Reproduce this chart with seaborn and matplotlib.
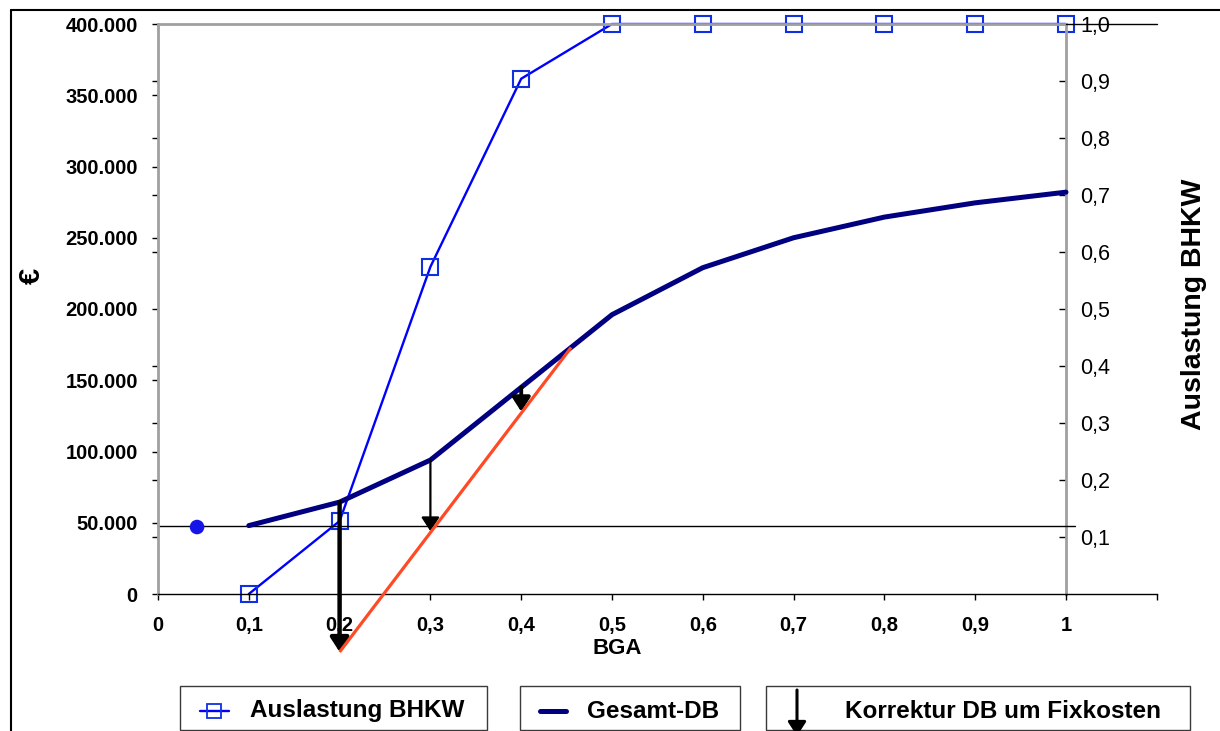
import matplotlib
matplotlib.use("Agg")
import matplotlib.pyplot as plt
from matplotlib.patches import Rectangle, FancyArrowPatch
from matplotlib.lines import Line2D
import seaborn as sns

# --- Daten -----------------------------------------------------------------
bga = [0.1, 0.2, 0.3, 0.4, 0.5, 0.6, 0.7, 0.8, 0.9, 1.0]
gesamt_db = [48000, 64500, 94000, 145000, 196000, 229000, 250000, 264500, 274500, 282000]
auslastung_bhkw = [0.0, 0.128, 0.574, 0.904, 1.0, 1.0, 1.0, 1.0, 1.0, 1.0]

fixkosten = 48000
einzelpunkt_x = [0.043]
einzelpunkt_y = [47000]

# DB nach Abzug der Fixkosten (Gerade) und Korrekturpfeile
db_korr_x = [0.2, 0.455]
db_korr_y = [-40700, 173000]
pfeil_x = [0.2, 0.3, 0.4]
pfeil_ziel = [-40700, 44000, 128000]

x_ticks = [0, 0.1, 0.2, 0.3, 0.4, 0.5, 0.6, 0.7, 0.8, 0.9, 1.0, 1.1]
x_labels = ["0", "0,1", "0,2", "0,3", "0,4", "0,5", "0,6", "0,7", "0,8", "0,9", "1", ""]
y_ticks = [0, 50000, 100000, 150000, 200000, 250000, 300000, 350000, 400000]
y_labels = ["0", "50.000", "100.000", "150.000", "200.000", "250.000",
            "300.000", "350.000", "400.000"]
y2_ticks = [0.1, 0.2, 0.3, 0.4, 0.5, 0.6, 0.7, 0.8, 0.9, 1.0]
y2_labels = ["0,1", "0,2", "0,3", "0,4", "0,5", "0,6", "0,7", "0,8", "0,9", "1,0"]

# --- Stil ------------------------------------------------------------------
sns.set_style("white")
plt.rcParams["font.family"] = ["Liberation Sans", "DejaVu Sans"]
plt.rcParams.update({"text.color": "black", "axes.labelcolor": "black",
                     "xtick.color": "black", "ytick.color": "black"})

W, H = 1220, 731
fig = plt.figure(figsize=(W / 100, H / 100), dpi=100)
fig.patch.set_facecolor("white")

BLUE = "#0000ff"
NAVY = "#000080"
RED = "#ff4a26"
GRAY = "#a0a0a0"

ax = fig.add_axes([158 / W, (H - 594) / H, (1156.8 - 158) / W, 570 / H])
ax2 = ax.twinx()

# Auslastung BHKW auf der Sekundärachse
sns.lineplot(x=bga, y=auslastung_bhkw, ax=ax2, color=BLUE, lw=1.7,
             marker="s", markersize=11, markerfacecolor="none",
             markeredgecolor="#1030e0", markeredgewidth=1.5, clip_on=False)

ax.set_zorder(ax2.get_zorder() + 1)
ax.patch.set_visible(False)

# Fixkostenlinie
ax.plot([0, 1.01], [fixkosten, fixkosten], color="black", lw=1.0, zorder=1,
        clip_on=False)

# Gesamt-DB
sns.lineplot(x=bga, y=gesamt_db, ax=ax, color=NAVY, lw=3.6, zorder=3,
             solid_capstyle="round")

# Einzelpunkt
sns.scatterplot(x=einzelpunkt_x, y=einzelpunkt_y, ax=ax, color="#1515e8",
                s=110, edgecolor="none", zorder=4)

# Korrekturpfeile
db_lookup = dict(zip(bga, gesamt_db))
pfeil_lw = [3.2, 1.6, 2.8]
for x, ziel, lw in zip(pfeil_x, pfeil_ziel, pfeil_lw):
    arr = FancyArrowPatch((x, db_lookup[x]), (x, ziel),
                          arrowstyle="-|>,head_length=0.85,head_width=0.55",
                          mutation_scale=10, lw=lw, color="black",
                          shrinkA=0, shrinkB=0, zorder=5, clip_on=False,
                          transform=ax.transData)
    ax.add_patch(arr)

# korrigierter DB
ax.plot(db_korr_x, db_korr_y, color=RED, lw=2.3, zorder=6, clip_on=False,
        solid_capstyle="butt")

# --- Achsen ----------------------------------------------------------------
ax.set_xlim(0, 1.1)
ax.set_ylim(0, 400000)
ax2.set_ylim(0, 1.0)

for s in ["top", "right"]:
    ax.spines[s].set_visible(False)
ax.spines["left"].set_color(GRAY)
ax.spines["left"].set_linewidth(2.0)
ax.spines["bottom"].set_color("black")
ax.spines["bottom"].set_linewidth(1.0)

for s in ["top", "left", "bottom"]:
    ax2.spines[s].set_visible(False)
ax2.spines["right"].set_position(("data", 1.0))
ax2.spines["right"].set_color(GRAY)
ax2.spines["right"].set_linewidth(2.0)

# oberer Rahmen
ax.plot([0, 1.0], [400000, 400000], color=GRAY, lw=2.0, zorder=0.5, clip_on=False)
ax.plot([1.0, 1.1], [400000, 400000], color="black", lw=1.0, zorder=0.5, clip_on=False)

ax.set_xticks(x_ticks)
ax.set_xticklabels(x_labels, fontsize=14.5, fontweight="bold")
ax.set_yticks(y_ticks)
ax.set_yticklabels(y_labels, fontsize=14.5, fontweight="bold")
ax.set_yticks([t * 400000 for t in y2_ticks[:-1]], minor=True)
ax.tick_params(axis="x", direction="out", length=4.5, width=1, color="black",
               pad=11, bottom=True)
ax.tick_params(axis="y", which="both", direction="out", length=4.5, width=1,
               color="black", pad=10, left=True)

ax2.set_yticks(y2_ticks)
ax2.set_yticklabels(y2_labels, fontsize=15.5)
ax2.tick_params(axis="y", direction="in", length=5, width=1, color="black",
                pad=10, right=True)

ax.set_xlabel("BGA", fontsize=16, fontweight="bold")
ax.xaxis.set_label_coords((617 - 158) / 998.8, (594 - 638) / 570)
ax.set_ylabel("€", fontsize=21, fontweight="bold")
ax.yaxis.set_label_coords((46 - 158) / 998.8, (594 - 276) / 570)
ax2.set_ylabel("Auslastung BHKW", fontsize=20.5, fontweight="bold")
ax2.yaxis.set_label_coords((1181 - 158) / 998.8, (594 - 304) / 570)

# --- Legende ---------------------------------------------------------------
def px(x, y):
    return x / W, 1 - y / H

def box(x0, x1, y0=686, y1=730):
    fx, fy = px(x0, y1)
    fig.add_artist(Rectangle((fx, fy), (x1 - x0) / W, (y1 - y0) / H,
                             transform=fig.transFigure, fill=False,
                             edgecolor="#3a3a3a", lw=1.0))

ly = 711
box(180, 487)
fig.add_artist(Line2D([px(200, 0)[0], px(229, 0)[0]], [px(0, ly)[1]] * 2,
                      transform=fig.transFigure, color=BLUE, lw=1.7))
fig.add_artist(Line2D([px(214, 0)[0]], [px(0, ly)[1]], transform=fig.transFigure,
                      marker="s", markersize=10, markerfacecolor="none",
                      markeredgecolor="#1030e0", markeredgewidth=1.3, lw=0))
fig.text(*px(250, ly), "Auslastung BHKW", fontsize=17.5, fontweight="bold",
         ha="left", va="center")

box(520, 740)
fig.add_artist(Line2D([px(540, 0)[0], px(566, 0)[0]], [px(0, ly)[1]] * 2,
                      transform=fig.transFigure, color=NAVY, lw=3.6,
                      solid_capstyle="round"))
fig.text(*px(587, ly), "Gesamt-DB", fontsize=17.5, fontweight="bold",
         ha="left", va="center")

box(766, 1190)
fig.add_artist(FancyArrowPatch(px(797, 690), px(797, 736),
                               arrowstyle="-|>,head_length=0.85,head_width=0.55",
                               mutation_scale=10, lw=2.2, color="black",
                               shrinkA=0, shrinkB=0, transform=fig.transFigure))
fig.text(*px(845, ly), "Korrektur DB um Fixkosten", fontsize=17.5,
         fontweight="bold", ha="left", va="center")

# Rahmen der Grafik
fig.add_artist(Line2D([px(11, 0)[0]] * 2, [0, px(0, 10)[1]],
                      transform=fig.transFigure, color="black", lw=1.5))
fig.add_artist(Line2D([px(11, 0)[0], 1], [px(0, 10)[1]] * 2,
                      transform=fig.transFigure, color="black", lw=1.5))

fig.savefig("out.png", dpi=100)
